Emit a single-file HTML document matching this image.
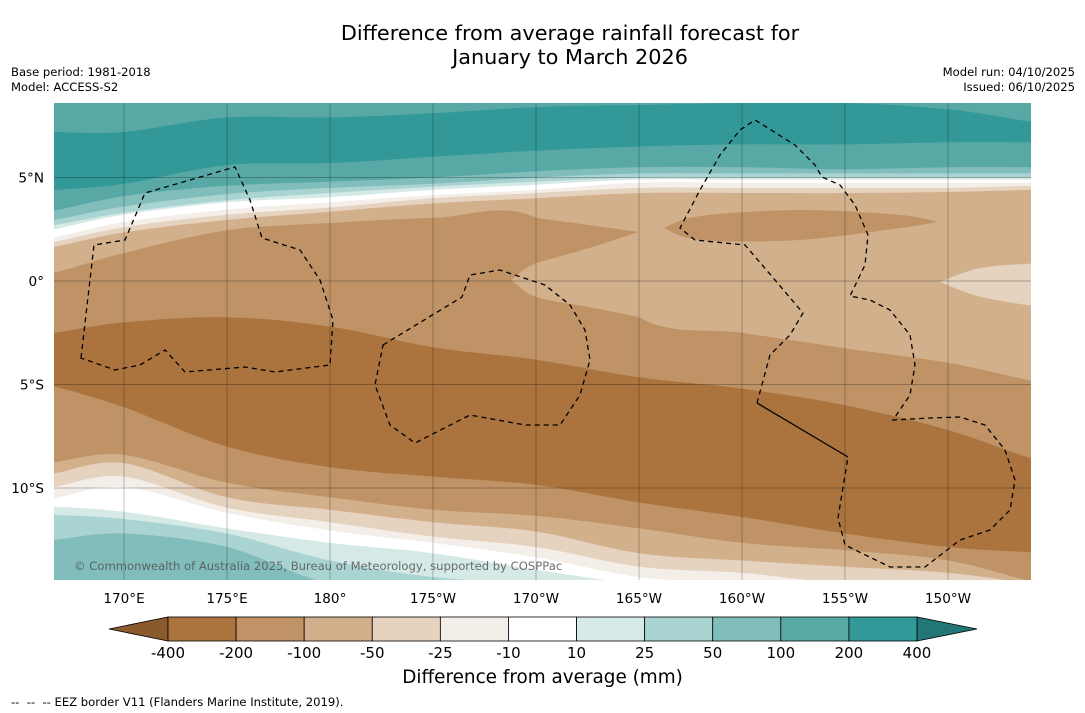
<!DOCTYPE html>
<html><head><meta charset="utf-8">
<style>
body{margin:0;background:#fff;font-family:"DejaVu Sans","Liberation Sans",sans-serif;}
#wrap{position:relative;width:1085px;height:713px;overflow:hidden;background:#fff}
.t{position:absolute;white-space:nowrap;color:#000}
</style></head><body>
<div id="wrap">
<div class="t" style="left:0;width:1140px;text-align:center;top:21px;font-size:20.8px;line-height:24px">Difference from average rainfall forecast for<br>January to March 2026</div>
<div class="t" style="left:11px;top:65px;font-size:11.6px">Base period: 1981-2018</div>
<div class="t" style="left:11px;top:80px;font-size:11.6px">Model: ACCESS-S2</div>
<div class="t" style="right:10px;top:65px;font-size:11.6px;text-align:right">Model run: 04/10/2025</div>
<div class="t" style="right:10px;top:80px;font-size:11.6px;text-align:right">Issued: 06/10/2025</div>
<svg id="svg" width="1085" height="713" style="position:absolute;left:0;top:0;font-family:'DejaVu Sans','Liberation Sans',sans-serif"></svg>
<div class="t" style="left:0;width:1085px;text-align:center;top:667px;font-size:18.4px">Difference from average (mm)</div>
<div class="t" style="left:11px;top:695px;font-size:11.6px">--&nbsp; --&nbsp; -- EEZ border V11 (Flanders Marine Institute, 2019).</div>
</div>
<script>
// ---- data ----
const lons = [166.6,170,175,180,185,190,195,200,205,210,214];
const bandClasses = ['c400','c200','c100','c50','c25','w','m25','m50','m100','m200','m400','m200','m100','m50','m25','w','c25','c50','c100'];
const bandTops = [
 [7.2,7.2,7.9,7.9,8.1,8.4,8.5,8.6,8.6,8.3,7.7],
 [4.4,4.7,5.6,5.7,6.0,6.3,6.5,6.6,6.6,6.7,6.7],
 [3.4,4.1,4.6,4.8,5.0,5.3,5.5,5.5,5.4,5.5,5.5],
 [2.95,3.6,4.2,4.5,4.7,5.0,5.2,5.2,5.2,5.2,5.2],
 [2.7,3.3,3.9,4.25,4.55,4.8,5.0,5.0,5.0,5.0,5.0],
 [2.5,3.2,3.8,4.05,4.4,4.65,4.9,4.9,4.9,4.9,4.9],
 [2.1,2.85,3.45,3.8,4.15,4.4,4.75,4.75,4.75,4.75,4.75],
 [1.9,2.6,3.2,3.55,4.0,4.25,4.5,4.5,4.5,4.5,4.6],
 [1.65,2.35,2.95,3.35,3.75,4.0,4.25,4.25,4.25,4.3,4.4],
 [0.4,1.35,2.45,2.8,3.05,3.05,-1.75,-2.5,-3.25,-3.95,-4.8],
 [-2.5,-2.0,-1.75,-2.2,-3.2,-3.8,-4.65,-5.2,-6.0,-7.2,-8.55],
 [-5.1,-6.1,-8.0,-9.0,-9.45,-9.85,-10.7,-11.4,-12.2,-12.85,-13.1],
 [-8.75,-8.4,-9.75,-10.45,-11.05,-11.35,-11.95,-12.65,-13.0,-13.5,-14.5],
 [-9.3,-8.8,-10.45,-11.05,-11.65,-12.1,-13.15,-13.5,-13.8,-14.1,-14.6],
 [-9.95,-9.45,-10.95,-11.65,-12.35,-12.85,-13.8,-14.1,-14.6,-14.6,-14.6],
 [-10.5,-9.95,-11.2,-12.05,-12.65,-13.35,-14.3,-14.6,-14.6,-14.6,-14.6],
 [-10.9,-11.15,-11.95,-12.65,-13.15,-13.95,-14.6,-14.6,-14.6,-14.6,-14.6],
 [-11.3,-11.5,-12.2,-13.5,-14.3,-14.6,-14.6,-14.6,-14.6,-14.6,-14.6],
 [-12.5,-12.2,-12.85,-14.6,-14.6,-14.6,-14.6,-14.6,-14.6,-14.6,-14.6]
];
const patchClasses = ['m100','m200','m200','m50'];
const patchLons = [[188.8,190,192.6,195],[190,192.6,195],[196.2,198,202.8,207.7,209.5],[209.6,211.6,214.5]];
const patchTops = [[0.05,0.87,1.6,2.37],[3.05,2.7,2.37],[2.56,3.14,3.43,3.19,2.85],[-0.05,0.63,0.87]];
const patchBots = [[0.05,-0.77,-1.26,-1.74],[0.87,1.6,2.37],[2.56,1.98,1.98,2.56,2.85],[-0.05,-0.77,-1.26]];
const cbLabels = ['-400','-200','-100','-50','-25','-10','10','25','50','100','200','400'];
const lonTicks = [170,175,180,185,190,195,200,205,210];
const lonTickLabels = ['170°E','175°E','180°','175°W','170°W','165°W','160°W','155°W','150°W'];
const latTicks = [5,0,-5,-10];
const latTickLabels = ['5°N','0°','5°S','10°S'];
// ---- styling ----
const colors = {m400:'#ab743e',m200:'#bf9366',m100:'#d2b08c',m50:'#e5d2bf',m25:'#f3eee8',w:'#ffffff',c25:'#d5e9e7',c50:'#aad4d2',c100:'#80bdbb',c200:'#58a8a6',c400:'#339898'};
const cbColors = ['#ab743e','#bf9366','#d2b08c','#e5d2bf','#f3eee8','#ffffff','#d5e9e7','#aad4d2','#80bdbb','#58a8a6','#339898'];
const X0=54,X1=1031,Y0=103,Y1=580;
const xs = lon => 124 + (lon-170)*20.6;
const ys = lat => 281 - lat*20.7;
const NS='http://www.w3.org/2000/svg';
const svg=document.getElementById('svg');
function mk(tag,attrs,parent){const e=document.createElementNS(NS,tag);for(const k in attrs)e.setAttribute(k,attrs[k]);(parent||svg).appendChild(e);return e;}
function smooth(pts,startCmd){
  let d=(startCmd||'M')+pts[0][0].toFixed(1)+','+pts[0][1].toFixed(1);
  for(let i=0;i<pts.length-1;i++){
    const p0=pts[i-1]||pts[i],p1=pts[i],p2=pts[i+1],p3=pts[i+2]||p2;
    const c1=[p1[0]+(p2[0]-p0[0])/6,p1[1]+(p2[1]-p0[1])/6];
    const c2=[p2[0]-(p3[0]-p1[0])/6,p2[1]-(p3[1]-p1[1])/6];
    d+=' C'+c1[0].toFixed(1)+','+c1[1].toFixed(1)+' '+c2[0].toFixed(1)+','+c2[1].toFixed(1)+' '+p2[0].toFixed(1)+','+p2[1].toFixed(1);
  }
  return d;
}
const defs=mk('defs',{});
const cp=mk('clipPath',{id:'mapclip'},defs);
mk('rect',{x:X0,y:Y0,width:X1-X0,height:Y1-Y0},cp);
const g=mk('g',{'clip-path':'url(#mapclip)'});


const bg=mk('rect',{x:X0,y:Y0,width:X1-X0,height:Y1-Y0,fill:colors.c200},g);


bandTops.forEach((top,i)=>{
  const pts=top.map((v,j)=>[xs(lons[j]),ys(v)]);
  pts.unshift([X0-20,pts[0][1]]); pts.push([X1+20,pts[pts.length-1][1]]);
  const d=smooth(pts)+' L'+(X1+20)+','+(Y1+20)+' L'+(X0-20)+','+(Y1+20)+' Z';
  const p=mk('path',{d:d,fill:colors[bandClasses[i]]},g);
  
  
});
patchTops.forEach((top,i)=>{
  const t=top.map((v,j)=>[xs(patchLons[i][j]),ys(v)]);
  const b=patchBots[i].map((v,j)=>[xs(patchLons[i][j]),ys(v)]).reverse();
  const d=smooth(t)+' '+smooth(b,'L')+' Z';
  const p=mk('path',{d:d,fill:colors[patchClasses[i]]},g);
  
  
});
// gridlines
lonTicks.forEach((lon,i)=>{
  const l=mk('line',{x1:xs(lon),x2:xs(lon),y1:Y0,y2:Y1,stroke:'rgba(0,0,0,0.35)','stroke-width':0.7},g);
  
  
  const t=mk('text',{x:xs(lon),y:603,'text-anchor':'middle','font-size':13.6,fill:'#000'});
  t.textContent=lonTickLabels[i];
  
  
});
latTicks.forEach((lat,i)=>{
  const l=mk('line',{x1:X0,x2:X1,y1:ys(lat),y2:ys(lat),stroke:'rgba(0,0,0,0.35)','stroke-width':0.7},g);
  
  
  const t=mk('text',{x:44,y:ys(lat)+5,'text-anchor':'end','font-size':13.6,fill:'#000'});
  t.textContent=latTickLabels[i];
  
  
});
// EEZ borders (basemap)
const eez=[
 'M81,358 L94,245 L125,240 L145,193 L235,167 L250,200 L262,238 L300,250 L320,280 L333,320 L330,365 L275,372 L245,367 L185,372 L165,350 L140,365 L115,370 Z',
 'M383,345 L462,297 L470,275 L500,270 L545,285 L570,305 L585,330 L590,360 L580,395 L560,425 L525,425 L470,415 L415,443 L390,425 L375,385 Z',
 'M757,403 L770,355 L790,335 L803,313 L775,280 L745,245 L695,240 L680,228 L700,190 L720,155 L740,130 L755,120 L795,145 L815,165 L822,177 L840,185 L855,205 L868,235 L865,265 L850,296 L870,300 L890,310 L910,335 L915,365 L910,395 L893,420 L930,418 L960,417 L985,425 L1005,450 L1015,480 L1010,510 L990,530 L960,540 L925,567 L890,567 L845,545 L838,518 L848,457'
];
eez.forEach(d=>{
  const p=mk('path',{d:d,fill:'none',stroke:'#000','stroke-width':1.3,'stroke-dasharray':'5,4'},g);
  
  
});
const sl=mk('path',{d:'M757,403 L848,457',fill:'none',stroke:'#000','stroke-width':1.3},g);


const cr=mk('text',{x:74,y:570,'font-size':11.6,fill:'#555','fill-opacity':0.85},g);
cr.textContent='© Commonwealth of Australia 2025, Bureau of Meteorology, supported by COSPPac';


// colorbar
const cbX0=168,cbX1=917,cbY=617,cbH=24,bw=(cbX1-cbX0)/cbColors.length;
const lt=mk('polygon',{points:`109,${cbY+cbH/2} ${cbX0},${cbY} ${cbX0},${cbY+cbH}`,fill:'#8a5a2c',stroke:'#000','stroke-width':0.8});


const rt=mk('polygon',{points:`977,${cbY+cbH/2} ${cbX1},${cbY} ${cbX1},${cbY+cbH}`,fill:'#237676',stroke:'#000','stroke-width':0.8});


cbColors.forEach((c,i)=>{
  const r=mk('rect',{x:cbX0+i*bw,y:cbY,width:bw,height:cbH,fill:c,stroke:'#000','stroke-width':0.8});
  
  
});
cbLabels.forEach((s,i)=>{
  const t=mk('text',{x:cbX0+i*bw,y:658,'text-anchor':'middle','font-size':15,fill:'#000'});
  t.textContent=s;
  
  
});
</script>
</body></html>
